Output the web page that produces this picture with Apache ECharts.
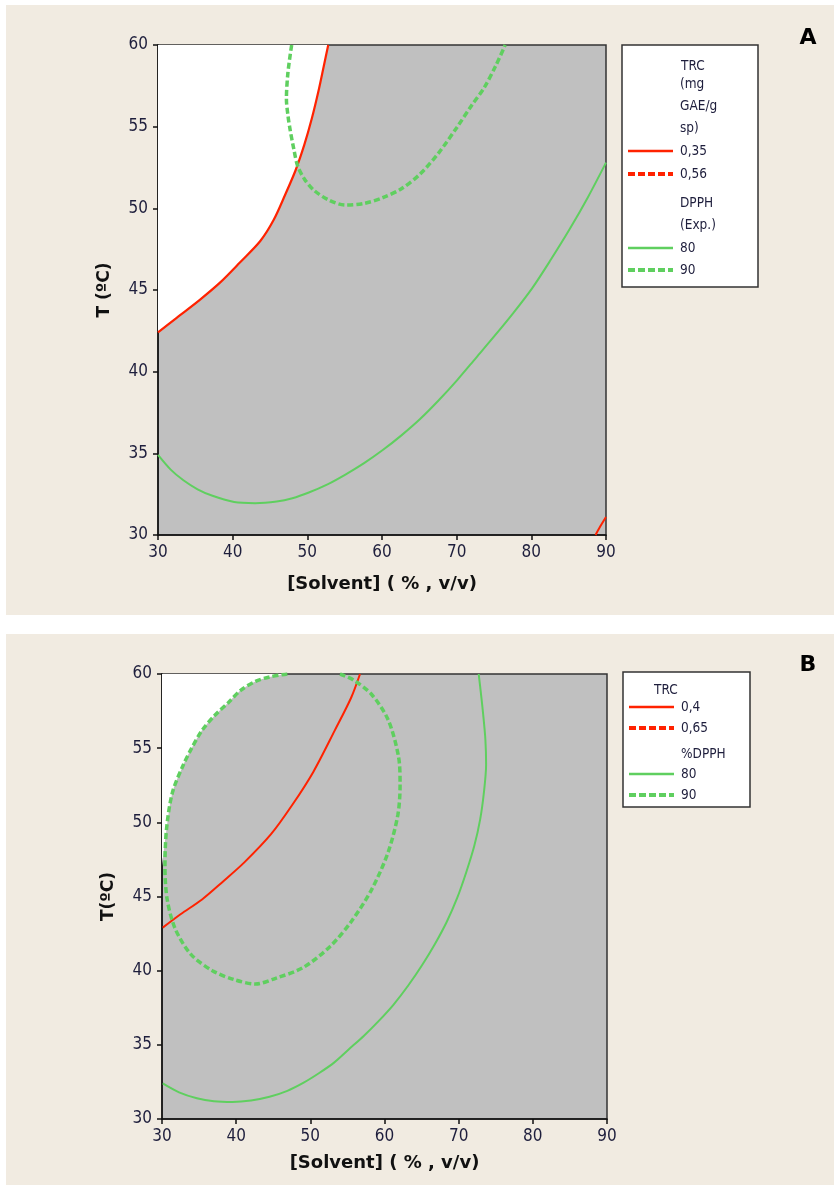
<!DOCTYPE html>
<html>
<head>
<meta charset="utf-8">
<script src="https://cdn.jsdelivr.net/npm/echarts@6/dist/echarts.min.js"></script>
<style>
html,body{margin:0;padding:0;background:#ffffff;}
#wrap{position:relative;width:834px;height:1185px;}
.panel{position:absolute;background:#f1ebe1;}
#chart{position:absolute;left:0;top:0;width:834px;height:1185px;}
</style>
</head>
<body>
<div id="wrap">
  <div class="panel" style="left:6px;top:5px;width:828px;height:610px;"></div>
  <div class="panel" style="left:6px;top:634px;width:828px;height:551px;"></div>
  <div id="chart"></div>
</div>
<script>
// ---------- DATA ----------
const xTicks = [30, 40, 50, 60, 70, 80, 90];
const yTicks = [30, 35, 40, 45, 50, 55, 60];

// Panel A: TRC 0.35 contour (upper-left) and its small segment bottom-right
const trcA035 = [[30,42.4],[32.5,43.3],[35.6,44.4],[38.3,45.45],[41.0,46.7],[43.7,48.0],[45.5,49.3],[47.0,50.8],[48.4,52.3],[49.6,53.9],[50.6,55.5],[51.5,57.2],[52.2,58.7],[52.8,60]];
const trcA035b = [[88.6,30],[89.2,30.5],[90,31.1]];
// Panel A: DPPH 80 (solid) and 90 (dashed)
const dpphA80 = [[30,34.9],[31.7,34.0],[33.4,33.35],[35.3,32.8],[37.3,32.4],[40.2,32.02],[43.0,31.95],[45.9,32.05],[48.0,32.25],[50.2,32.6],[52.7,33.1],[55.1,33.7],[57.6,34.4],[60.1,35.2],[62.6,36.1],[65.1,37.1],[67.6,38.25],[70.1,39.5],[72.6,40.85],[75.1,42.2],[77.6,43.6],[80.1,45.1],[82.6,46.85],[85.1,48.7],[87.6,50.7],[90,52.8]];
const dpphA90 = [[47.9,60],[47.4,58.3],[47.2,56.7],[47.4,55.7],[47.7,54.8],[48.2,53.6],[48.7,52.6],[49.6,51.8],[50.9,51.1],[52.9,50.5],[55.1,50.2],[57.6,50.3],[60.1,50.65],[62.6,51.2],[65.1,52.1],[67.6,53.4],[70.1,55.0],[72.0,56.3],[73.7,57.4],[75.2,58.7],[76.5,60]];

// Panel B: TRC 0.4 contour
const trcB04 = [[30.1,42.9],[32.5,43.8],[35.4,44.8],[38.2,46.0],[41.1,47.3],[44.7,49.2],[47.6,51.2],[50.4,53.4],[53.3,56.2],[55.5,58.4],[56.7,60]];
// Panel B: DPPH 80 (solid) and 90 (dashed)
const dpphB80 = [[30.1,32.4],[32.3,31.8],[34.7,31.4],[37.0,31.2],[39.5,31.15],[42.0,31.25],[44.5,31.5],[46.9,31.9],[49.1,32.45],[51.2,33.1],[53.2,33.8],[55.2,34.7],[57.2,35.6],[59.2,36.6],[61.2,37.7],[63.2,39.0],[65.1,40.4],[66.8,41.8],[68.4,43.3],[69.8,44.9],[71.0,46.6],[72.1,48.4],[72.9,50.2],[73.4,52.0],[73.7,53.9],[73.6,55.6],[73.3,57.3],[73.0,58.7],[72.7,60]];
const dpphB90 = [[46.9,60],[44.5,59.8],[42.6,59.5],[40.6,58.9],[39.0,58.1],[37.1,57.2],[35.4,56.2],[34.0,55.0],[32.9,53.9],[31.4,52.0],[30.6,49.5],[30.4,47.0],[30.7,44.8],[31.8,42.8],[33.9,41.1],[36.8,40.0],[39.7,39.4],[42.6,39.1],[45.4,39.5],[49.0,40.2],[52.6,41.6],[55.5,43.3],[58.3,45.5],[60.5,48.0],[61.8,50.5],[62.1,52.5],[61.9,54.4],[60.5,56.9],[58.3,58.6],[55.8,59.6],[54.0,60]];

// Legend labels
const legendA = {title:['TRC','(mg','GAE/g','sp)'], trc:['0,35','0,56'], dpphTitle:['DPPH','(Exp.)'], dpph:['80','90']};
const legendB = {title:['TRC'], trc:['0,4','0,65'], dpphTitle:['%DPPH'], dpph:['80','90']};

// ---------- STYLE ----------
const RED = '#ff2200';
const GREEN = '#5fcf5f';
const TICK = '#1e1e3c';
const FONT = 'DejaVu Sans Condensed, DejaVu Sans, sans-serif';
const TFONT = 'DejaVu Sans, sans-serif';

// white region in B: upper-left arc of the 90 contour up to the leftmost point
const bLeftIdx = 11;
const bWhite = [[30,47.0]].concat(dpphB90.slice(0, bLeftIdx + 1).reverse().slice(1));

function xAxisDef(gi, name, gap){
  return {type:'value', gridIndex:gi, min:30, max:90, interval:10,
    name:name, nameLocation:'middle', nameGap:gap,
    nameTextStyle:{fontFamily:TFONT, fontWeight:'bold', fontSize:18, color:'#111'},
    axisLine:{show:true, onZero:false, lineStyle:{color:'#111', width:1.5}},
    axisTick:{show:true, length:5, lineStyle:{color:'#111', width:1.5}},
    axisLabel:{color:TICK, fontFamily:FONT, fontSize:17, margin:9},
    splitLine:{show:false}};
}
function yAxisDef(gi, name){
  return {type:'value', gridIndex:gi, min:30, max:60, interval:5,
    name:name, nameLocation:'middle', nameGap:45, nameRotate:90,
    nameTextStyle:{fontFamily:TFONT, fontWeight:'bold', fontSize:17, color:'#111'},
    axisLine:{show:true, onZero:false, lineStyle:{color:'#111', width:1.5}},
    axisTick:{show:true, length:5, lineStyle:{color:'#111', width:1.5}},
    axisLabel:{color:TICK, fontFamily:FONT, fontSize:17, margin:10},
    splitLine:{show:false}};
}
function line(gi, data, color, dashed, width, z){
  return {type:'line', xAxisIndex:gi, yAxisIndex:gi, data:data, symbol:'none', smooth:0.3,
    z:z||3, silent:true,
    lineStyle:{color:color, width:width, type: dashed ? [6,3] : 'solid', cap:'butt'}};
}
function whiteArea(gi, data){
  return {type:'line', xAxisIndex:gi, yAxisIndex:gi, data:data, symbol:'none', smooth:0.3,
    z:1, silent:true, lineStyle:{width:0, opacity:0},
    areaStyle:{color:'#ffffff', opacity:1, origin:'end'}};
}

function legendGraphics(x0, y0, w, h, rows){
  const els = [];
  els.push({type:'rect', shape:{x:x0, y:y0, width:w, height:h}, style:{fill:'#ffffff', stroke:'#333', lineWidth:1.5}, z:10});
  rows.forEach(r => {
    if (r.line) {
      els.push({type:'line', shape:{x1:x0+6, y1:r.y, x2:x0+51, y2:r.y},
        style:{stroke:r.color, lineWidth:r.dashed?4:2.5, lineDash:r.dashed?[7,3]:null}, z:11});
    }
    els.push({type:'text', x:r.x, y:r.y, style:{text:r.text, fill:TICK, font:'13.5px ' + FONT, textVerticalAlign:'middle'}, z:11});
  });
  return els;
}

const chart = echarts.init(document.getElementById('chart'), null, {renderer:'canvas'});

const rowsA = [
  {text:legendA.title[0], x:681, y:66},
  {text:legendA.title[1], x:680, y:84},
  {text:legendA.title[2], x:680, y:106},
  {text:legendA.title[3], x:680, y:128},
  {text:legendA.trc[0], x:680, y:151, line:true, color:RED},
  {text:legendA.trc[1], x:680, y:174, line:true, color:RED, dashed:true},
  {text:legendA.dpphTitle[0], x:680, y:203},
  {text:legendA.dpphTitle[1], x:680, y:225},
  {text:legendA.dpph[0], x:680, y:248, line:true, color:GREEN},
  {text:legendA.dpph[1], x:680, y:270, line:true, color:GREEN, dashed:true}
];
const rowsB = [
  {text:legendB.title[0], x:654, y:690},
  {text:legendB.trc[0], x:681, y:707, line:true, color:RED},
  {text:legendB.trc[1], x:681, y:728, line:true, color:RED, dashed:true},
  {text:legendB.dpphTitle[0], x:681, y:754},
  {text:legendB.dpph[0], x:681, y:774, line:true, color:GREEN},
  {text:legendB.dpph[1], x:681, y:795, line:true, color:GREEN, dashed:true}
];

const option = {
  animation:false,
  backgroundColor:'transparent',
  grid:[
    {left:158, top:45, right:228, bottom:650, show:true, backgroundColor:'#c0c0c0', borderColor:'#333', borderWidth:1.5},
    {left:162, top:674, right:227, bottom:66, show:true, backgroundColor:'#c0c0c0', borderColor:'#333', borderWidth:1.5}
  ],
  xAxis:[xAxisDef(0,'[Solvent] ( % , v/v)', 40), xAxisDef(1,'[Solvent] ( % , v/v)', 35)],
  yAxis:[yAxisDef(0,'T (ºC)'), yAxisDef(1,'T(ºC)')],
  series:[
    whiteArea(0, trcA035),
    line(0, trcA035, RED, false, 2.2),
    line(0, trcA035b, RED, false, 2),
    line(0, dpphA80, GREEN, false, 2),
    line(0, dpphA90, GREEN, true, 3.5),
    whiteArea(1, bWhite),
    line(1, trcB04, RED, false, 2),
    line(1, dpphB80, GREEN, false, 2),
    line(1, dpphB90, GREEN, true, 3.5)
  ],
  graphic:[
    {type:'text', x:808, y:38, style:{text:'A', font:'bold 22px ' + TFONT, fill:'#000', textAlign:'center', textVerticalAlign:'middle'}},
    {type:'text', x:808, y:665, style:{text:'B', font:'bold 22px ' + TFONT, fill:'#000', textAlign:'center', textVerticalAlign:'middle'}}
  ].concat(legendGraphics(622, 45, 136, 242, rowsA))
   .concat(legendGraphics(623, 672, 127, 135, rowsB))
};
chart.setOption(option);
</script>
</body>
</html>
